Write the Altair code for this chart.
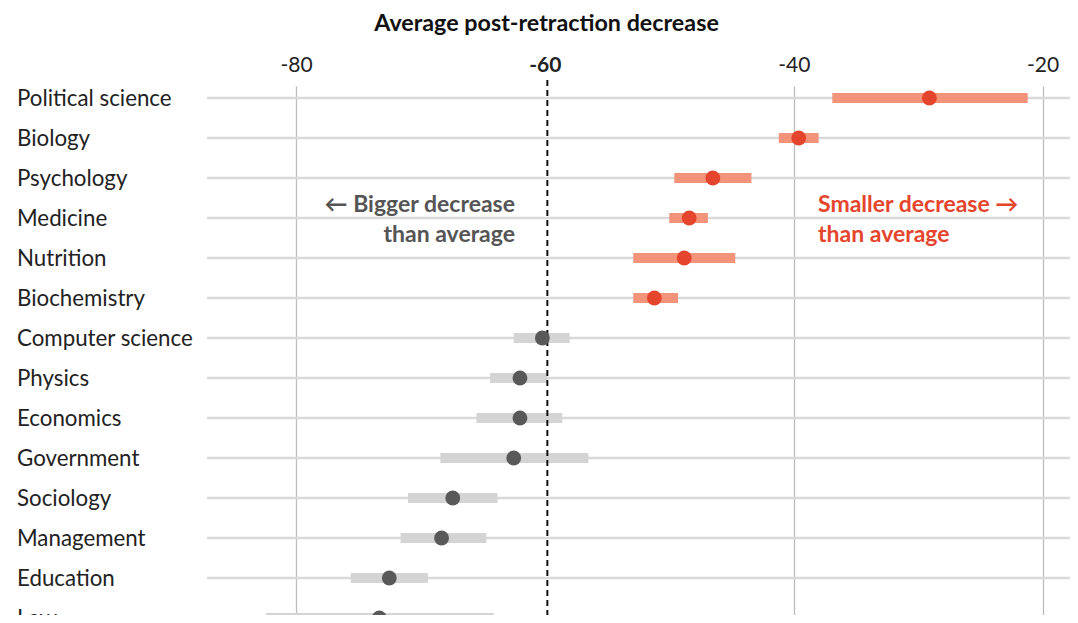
import altair as alt
import pandas as pd

FONT = "Lato"

categories = ["Political science", "Biology", "Psychology", "Medicine", "Nutrition",
              "Biochemistry", "Computer science", "Physics", "Economics", "Government",
              "Sociology", "Management", "Education", "Law"]
means = [-29.1, -39.6, -46.5, -48.4, -48.8, -51.2, -60.2, -62.0, -62.0, -62.5,
         -67.4, -68.3, -72.5, -73.3]
lows = [-36.9, -41.2, -49.6, -50.0, -52.9, -52.9, -62.5, -64.4, -65.5, -68.4,
        -71.0, -71.6, -75.6, -82.4]
highs = [-21.2, -38.0, -43.4, -46.9, -44.7, -49.3, -58.0, -59.8, -58.6, -56.5,
         -63.8, -64.7, -69.4, -64.1]
groups = ["Smaller"] * 6 + ["Other"] * 8
tick_values = [-80, -60, -40, -20]
average = -59.8

df = pd.DataFrame({
    "cat": categories,
    "idx": list(range(len(categories))),
    "mean": means,
    "low": lows,
    "high": highs,
    "group": groups,
})

W, H = 863, 529
xs = alt.Scale(domain=[-87.15, -17.8], nice=False, zero=False)
ys = alt.Scale(domain=[-0.3, 12.925], reverse=True, nice=False, zero=False)
bar_scale = alt.Scale(domain=["Smaller", "Other"], range=["#F2937A", "#D4D4D4"])
dot_scale = alt.Scale(domain=["Smaller", "Other"], range=["#E5452C", "#595959"])

base = alt.Chart(df)

grid_h = base.mark_rule(color="#D9D9D9", strokeWidth=2.5).encode(
    y=alt.Y("idx:Q", scale=ys, axis=None),
    x=alt.value(0),
    x2=alt.value(W),
)

bars = base.mark_rule(strokeWidth=10).encode(
    x=alt.X("low:Q", scale=xs, axis=alt.Axis(
        orient="top", values=tick_values, title="Average post-retraction decrease",
        labelExpr="'-' + toString(abs(datum.value))",
        labelFont=FONT, labelFontSize=21, labelColor="#222",
        labelFontWeight={"condition": {"test": "datum.value == -60", "value": "bold"}, "value": "normal"},
        labelBaseline="middle", labelPadding=21, ticks=False, tickSize=0, domain=False,
        grid=True, gridColor="#BDBDBD", gridWidth=1.3,
        gridOpacity={"condition": {"test": "datum.value == -60", "value": 0}, "value": 1},
        titleFont=FONT, titleFontSize=23.3, titleFontWeight="bold", titleColor="#111",
        titleX=339, titleY=-63, titleAlign="center", titleBaseline="middle", titleAnchor="start",
    )),
    x2="high:Q",
    y=alt.Y("idx:Q", scale=ys, axis=None),
    color=alt.Color("group:N", scale=bar_scale, legend=None),
)

dashed = alt.Chart(pd.DataFrame({"avg": [average]})).mark_rule(
    color="#111", strokeWidth=2, strokeDash=[6, 4]
).encode(
    x=alt.X("avg:Q", scale=xs),
    y=alt.value(-6),
    y2=alt.value(H),
)

dots = base.mark_circle(size=220, opacity=1).encode(
    x=alt.X("mean:Q", scale=xs),
    y=alt.Y("idx:Q", scale=ys),
    fill=alt.Fill("group:N", scale=dot_scale, legend=None),
)

labels = base.mark_text(align="left", baseline="middle", font=FONT, fontSize=22.3, color="#222", dy=1).encode(
    x=alt.value(-190),
    y=alt.Y("idx:Q", scale=ys),
    text="cat:N",
)

ann_left = alt.Chart(pd.DataFrame({"t": ["← Bigger decrease\nthan average"]})).mark_text(
    align="right", baseline="top", lineBreak="\n", lineHeight=30, font=FONT, fontSize=23,
    fontWeight="bold", color="#555555"
).encode(x=alt.value(308), y=alt.value(108), text="t:N")

ann_right = alt.Chart(pd.DataFrame({"t": ["Smaller decrease →\nthan average"]})).mark_text(
    align="left", baseline="top", lineBreak="\n", lineHeight=30, font=FONT, fontSize=23,
    fontWeight="bold", color="#E5452C"
).encode(x=alt.value(611), y=alt.value(108), text="t:N")

chart = alt.layer(grid_h, bars, dashed, dots, labels, ann_left, ann_right).properties(
    width=W, height=H,
    padding={"left": 199, "top": 78, "right": 0, "bottom": 0},
    autosize=alt.AutoSizeParams(type="none"),
    background="white",
).resolve_scale(color="independent", fill="independent").configure_view(stroke=None)

chart.save("out.html", embed_options={"renderer": "svg", "actions": False})
